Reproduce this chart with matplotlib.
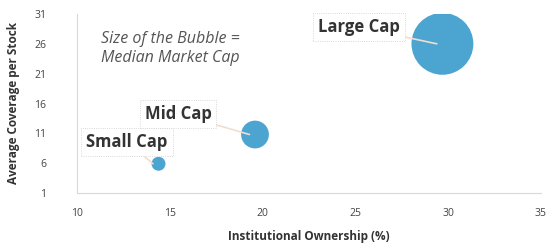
import numpy as np
import matplotlib.pyplot as plt

plt.rcParams['font.family'] = ['Open Sans', 'DejaVu Sans']

caps = ['Small Cap', 'Mid Cap', 'Large Cap']
ownership = [14.4, 19.6, 29.7]
coverage = [5.9, 10.8, 26.0]
market_cap = [0.63, 2.5, 12.4]
label_pos = [(12.7, 9.6), (15.45, 14.3), (25.2, 28.8)]

fig = plt.figure(figsize=(5.49, 2.5), dpi=100)
ax = fig.add_axes([0.14, 0.228, 0.845, 0.716])

ax.scatter(ownership, coverage, s=np.array(market_cap) * 160, color='#4ca4d0',
           edgecolor='none', zorder=3)

for name, x, y, (lx, ly) in zip(caps, ownership, coverage, label_pos):
    ax.annotate(name, xy=(x - 0.3, y), xytext=(lx, ly), ha='center', va='center',
                fontsize=12, fontweight='bold', color='#333333',
                bbox=dict(boxstyle='square,pad=0.3', fc='white', ec='#cccccc', lw=0.6, ls=':'),
                arrowprops=dict(arrowstyle='-', color='#f2ddd0', lw=1.2, shrinkA=0, shrinkB=0),
                zorder=4)

ax.text(11.3, 25.2, 'Size of the Bubble =\nMedian Market Cap', fontsize=11.5,
        style='italic', color='#555555', va='center', ha='left', linespacing=1.2)

ax.set_xlim(10, 35)
ax.set_ylim(1, 31)
ax.set_xticks(range(10, 36, 5))
ax.set_yticks(range(1, 32, 5))
ax.tick_params(labelsize=7.5, colors='#444444', length=0)
ax.tick_params(axis='y', pad=22)
ax.tick_params(axis='x', pad=11)
for s in ['top', 'right']:
    ax.spines[s].set_visible(False)
for s in ['left', 'bottom']:
    ax.spines[s].set_color('#d9d9d9')
    ax.spines[s].set_linewidth(0.8)

ax.set_xlabel('Institutional Ownership (%)', fontsize=8.5, fontweight='bold', color='#333333', labelpad=8)
ax.set_ylabel('Average Coverage per Stock', fontsize=8.5, fontweight='bold', color='#333333', labelpad=10)

fig.savefig('out.png', dpi=100)
